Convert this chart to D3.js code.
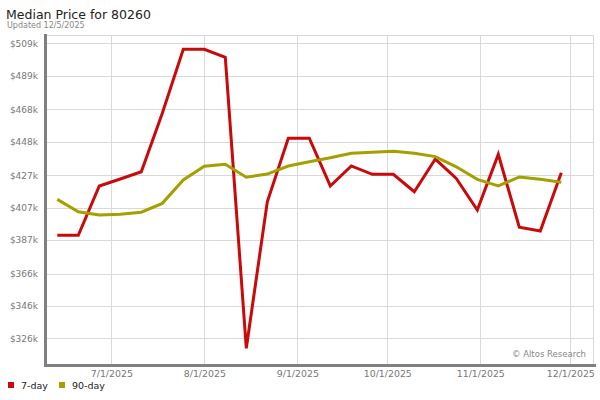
<!DOCTYPE html>
<html>
<head>
<meta charset="utf-8">
<script src="https://cdn.jsdelivr.net/npm/d3@7"></script>
<style>
  html, body { margin: 0; padding: 0; background: #fff; }
  svg { display: block; font-family: "DejaVu Sans", Verdana, sans-serif; }
</style>
</head>
<body>
<svg id="chart" width="600" height="400"></svg>
<script>
// ---- data ----
const dates = ["2025-06-13","2025-06-20","2025-06-27","2025-07-04","2025-07-11","2025-07-18","2025-07-25",
  "2025-08-01","2025-08-08","2025-08-15","2025-08-22","2025-08-29","2025-09-05","2025-09-12","2025-09-19",
  "2025-09-26","2025-10-03","2025-10-10","2025-10-17","2025-10-24","2025-10-31","2025-11-07","2025-11-14",
  "2025-11-21","2025-11-28"];
const sevenDay = [389.9,389.9,420.5,424.8,429.3,465.6,505.3,505.3,500.3,319.8,410.7,450.1,450.1,420.5,432.9,
  427.7,427.7,416.9,437.2,425.2,405.6,440.1,394.9,392.6,428.7];
const ninetyDay = [412.2,404.5,402.5,403.0,404.2,409.7,424.2,432.7,434.0,425.9,427.9,432.9,435.5,438.0,440.8,
  441.4,442.0,440.8,438.7,432.4,424.6,420.5,426.1,424.6,422.8];
const yTicks = [326,346,366,387,407,427,448,468,489,509];
const xTicks = ["2025-07-01","2025-08-01","2025-09-01","2025-10-01","2025-11-01","2025-12-01"];
const seriesNames = ["7-day","90-day"];
const seriesColors = ["#c80a0a","#a3a000"];

// ---- layout ----
const svg = d3.select("#chart");
const L = 46, R = 593, T = 35, B = 364;
const parse = d3.utcParse("%Y-%m-%d");
const fmtX = d3.utcFormat("%-m/%-d/%Y");

const x = d3.scaleUtc()
  .domain([parse("2025-06-13"), parse("2025-11-28")])
  .range([57.3, 561.3]);
const y = d3.scaleLinear().domain([326, 509]).range([338.3, 43.3]);

// title
svg.append("text").attr("x", 6).attr("y", 19).attr("font-size", 12.5).attr("fill", "#222")
  .text("Median Price for 80260");
svg.append("text").attr("x", 7).attr("y", 28).attr("font-size", 8).attr("fill", "#888")
  .text("Updated 12/5/2025");

// grid
const grid = svg.append("g").attr("stroke", "#d9d9d9").attr("stroke-width", 1).attr("shape-rendering", "crispEdges");
grid.selectAll("line.h").data(yTicks).join("line")
  .attr("x1", L).attr("x2", R).attr("y1", d => Math.round(y(d)) + 0.5).attr("y2", d => Math.round(y(d)) + 0.5);
grid.selectAll("line.v").data(xTicks).join("line")
  .attr("y1", T).attr("y2", B).attr("x1", d => Math.round(x(parse(d))) + 0.5).attr("x2", d => Math.round(x(parse(d))) + 0.5);
grid.append("line").attr("x1", L).attr("x2", R).attr("y1", T + 0.5).attr("y2", T + 0.5);
grid.append("line").attr("x1", R + 0.5).attr("x2", R + 0.5).attr("y1", T).attr("y2", B);

// y axis labels
const yAxis = d3.axisLeft(y).tickValues(yTicks).tickSize(0).tickPadding(0)
  .tickFormat(d => "$" + d + "k");
const gy = svg.append("g").attr("transform", "translate(38,0)").call(yAxis);
gy.select(".domain").remove();
gy.selectAll("text").attr("font-size", 9).attr("fill", "#777").attr("font-family", "DejaVu Sans, sans-serif");

// x axis labels
const xAxis = d3.axisBottom(x).tickValues(xTicks.map(parse)).tickSize(0).tickPadding(0).tickFormat(fmtX);
const gx = svg.append("g").attr("transform", "translate(0,377)").call(xAxis);
gx.select(".domain").remove();
gx.selectAll("text").attr("dy", 0).attr("font-size", 9.4).attr("fill", "#777").attr("font-family", "DejaVu Sans, sans-serif");

// lines
const line = d3.line().x((d, i) => x(parse(dates[i]))).y(d => y(d));
[sevenDay, ninetyDay].forEach((s, k) => {
  svg.append("path").datum(s)
    .attr("fill", "none").attr("stroke", seriesColors[k]).attr("stroke-width", 3)
    .attr("stroke-linejoin", "miter").attr("d", line);
});

// axes lines
svg.append("rect").attr("x", 44).attr("y", 34).attr("width", 3).attr("height", 333).attr("fill", "#808080");
svg.append("rect").attr("x", 44).attr("y", 364).attr("width", 552).attr("height", 3).attr("fill", "#808080");

// watermark
svg.append("text").attr("x", 586).attr("y", 356.5).attr("text-anchor", "end")
  .attr("font-size", 8.5).attr("fill", "#888").text("\u00A9 Altos Research");

// legend
const lg = svg.append("g").selectAll("g").data(seriesNames).join("g")
  .attr("transform", (d, i) => `translate(${[8, 59][i]},382)`);
lg.append("rect").attr("width", 6).attr("height", 6).attr("fill", (d, i) => seriesColors[i]);
lg.append("text").attr("x", 13).attr("y", 7).attr("font-size", 9.5).attr("fill", "#222").text(d => d);
</script>
</body>
</html>
